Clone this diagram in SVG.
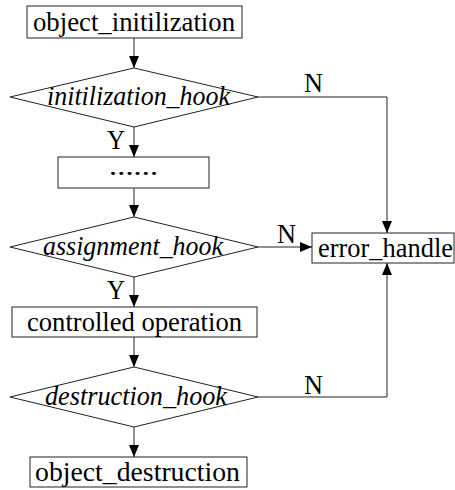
<svg xmlns="http://www.w3.org/2000/svg" width="455" height="490" viewBox="0 0 455 490">
<style>
.box{fill:#fff;stroke:#222;stroke-width:1}
.t{font-family:"Liberation Serif","Times New Roman",serif;font-size:27px;fill:#000}
.i{font-style:italic}
.d{font-size:18px;font-weight:bold}
.c{fill:none;stroke:#222;stroke-width:1}
</style>
<defs>
<marker id="ah" markerUnits="userSpaceOnUse" markerWidth="12" markerHeight="10" refX="12" refY="5" orient="auto">
<path d="M0,0 L12,5 L0,10 z" fill="#000"/>
</marker>
</defs>
<rect width="455" height="490" fill="#fff"/>
<g id="connectors">
<line class="c" x1="134" y1="38" x2="134" y2="68" marker-end="url(#ah)"/>
<line class="c" x1="134" y1="127" x2="134" y2="157" marker-end="url(#ah)"/>
<line class="c" x1="134" y1="188" x2="134" y2="217" marker-end="url(#ah)"/>
<line class="c" x1="134" y1="277" x2="134" y2="307" marker-end="url(#ah)"/>
<line class="c" x1="134" y1="337" x2="134" y2="367" marker-end="url(#ah)"/>
<line class="c" x1="134" y1="427" x2="134" y2="457" marker-end="url(#ah)"/>
<polyline class="c" points="258,97 387,97 387,233" marker-end="url(#ah)"/>
<line class="c" x1="258" y1="247" x2="312" y2="247" marker-end="url(#ah)"/>
<polyline class="c" points="258,397 387,397 387,263" marker-end="url(#ah)"/>
<text class="t" x="304" y="92" textLength="19" lengthAdjust="spacingAndGlyphs">N</text>
<text class="t" x="277" y="243" textLength="19" lengthAdjust="spacingAndGlyphs">N</text>
<text class="t" x="304" y="394" textLength="19" lengthAdjust="spacingAndGlyphs">N</text>
<text class="t" x="107" y="149" textLength="18" lengthAdjust="spacingAndGlyphs">Y</text>
<text class="t" x="107" y="299" textLength="18" lengthAdjust="spacingAndGlyphs">Y</text>
</g>
<g id="object_initilization">
<rect class="box" x="27" y="6" width="215" height="32"/>
<text class="t" x="33" y="31" textLength="202" lengthAdjust="spacingAndGlyphs">object_initilization</text>
</g>
<g id="initilization_hook">
<polygon class="box" points="134,68 258,97 134,127 10,97"/>
<text class="t i" x="47" y="105" textLength="183" lengthAdjust="spacingAndGlyphs">initilization_hook</text>
</g>
<g id="dots">
<rect class="box" x="58" y="157" width="151" height="31"/>
<text class="t d" x="109" y="175" textLength="49" lengthAdjust="spacingAndGlyphs">……</text>
</g>
<g id="assignment_hook">
<polygon class="box" points="134,217 258,247 134,277 10,247"/>
<text class="t i" x="43" y="255" textLength="180" lengthAdjust="spacingAndGlyphs">assignment_hook</text>
</g>
<g id="controlled_operation">
<rect class="box" x="12" y="307" width="245" height="30"/>
<text class="t" x="27" y="331" textLength="215" lengthAdjust="spacingAndGlyphs">controlled operation</text>
</g>
<g id="destruction_hook">
<polygon class="box" points="134,367 258,397 134,427 10,397"/>
<text class="t i" x="45" y="405" textLength="182" lengthAdjust="spacingAndGlyphs">destruction_hook</text>
</g>
<g id="object_destruction">
<rect class="box" x="30" y="457" width="217" height="30"/>
<text class="t" x="35" y="481" textLength="205" lengthAdjust="spacingAndGlyphs">object_destruction</text>
</g>
<g id="error_handle">
<rect class="box" x="312" y="233" width="142" height="30"/>
<text class="t" x="318" y="257" textLength="135" lengthAdjust="spacingAndGlyphs">error_handle</text>
</g>
</svg>
